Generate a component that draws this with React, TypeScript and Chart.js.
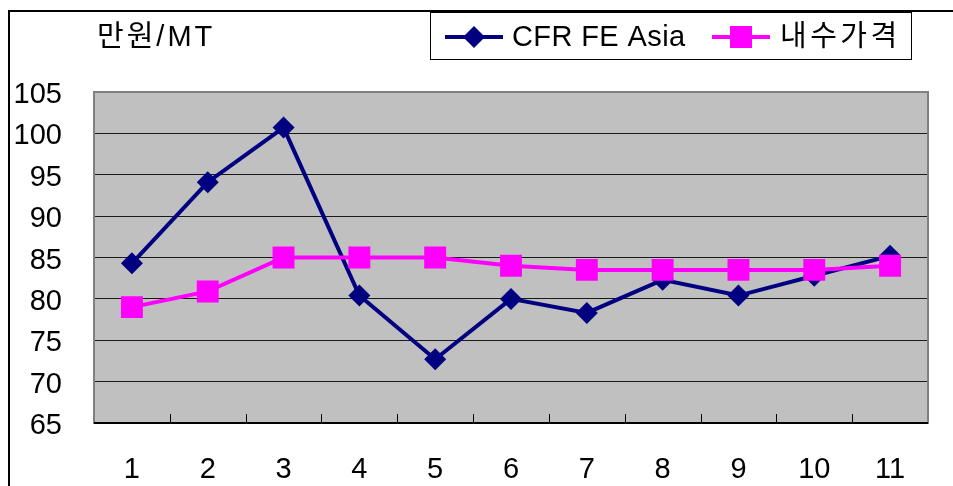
import React, { useEffect, useRef } from 'react';
import { Chart, registerables } from 'chart.js';

Chart.register(...registerables);

const categories = ['1', '2', '3', '4', '5', '6', '7', '8', '9', '10', '11'];
const cfrValues = [84.3, 94.1, 100.7, 80.4, 72.7, 80.0, 78.3, 82.3, 80.4, 82.8, 85.2];
const domesticValues = [79.0, 80.9, 85.0, 85.0, 85.0, 84.0, 83.5, 83.5, 83.5, 83.5, 84.0];
const seriesNames = ['CFR FE Asia', '내수가격'];
const unitLabel = '만원/MT';
const yMin = 65;
const yMax = 105;
const yStep = 5;

const NAVY = '#000080';
const PINK = '#FF00FF';
const FONT = "'Liberation Sans', 'Noto Sans CJK KR', sans-serif";

function drawDiamond(ctx: CanvasRenderingContext2D, x: number, y: number, r: number) {
  ctx.beginPath();
  ctx.moveTo(x, y - r);
  ctx.lineTo(x + r, y);
  ctx.lineTo(x, y + r);
  ctx.lineTo(x - r, y);
  ctx.closePath();
  ctx.fill();
}

const decorPlugin = {
  id: 'decor',
  beforeDraw(chart: any) {
    const { ctx, chartArea: a } = chart;
    ctx.save();
    ctx.fillStyle = '#ffffff';
    ctx.fillRect(0, 0, chart.width, chart.height);
    ctx.fillStyle = '#c0c0c0';
    ctx.fillRect(a.left, a.top, a.right - a.left, a.bottom - a.top);
    ctx.restore();
  },
  beforeDatasetsDraw(chart: any) {
    const { ctx, chartArea: a } = chart;
    ctx.save();
    ctx.strokeStyle = '#808080';
    ctx.lineWidth = 2;
    ctx.strokeRect(a.left, a.top, a.right - a.left, a.bottom - a.top);
    ctx.strokeStyle = '#000000';
    ctx.lineWidth = 2;
    ctx.beginPath();
    ctx.moveTo(a.left, a.bottom);
    ctx.lineTo(a.right, a.bottom);
    ctx.stroke();
    const n = categories.length;
    const step = (a.right - a.left) / n;
    ctx.lineWidth = 1;
    ctx.beginPath();
    for (let i = 1; i < n; i++) {
      const x = Math.round(a.left + i * step) + 0.5;
      ctx.moveTo(x, a.bottom);
      ctx.lineTo(x, a.bottom - 9);
    }
    ctx.stroke();
    ctx.restore();
  },
  afterDraw(chart: any) {
    const { ctx } = chart;
    ctx.save();
    ctx.strokeStyle = '#000000';
    ctx.lineWidth = 2;
    ctx.beginPath();
    ctx.moveTo(9, chart.height);
    ctx.lineTo(9, 11);
    ctx.lineTo(chart.width, 11);
    ctx.stroke();

    ctx.fillStyle = '#000000';
    ctx.font = `29px ${FONT}`;
    ctx.textBaseline = 'middle';
    ctx.textAlign = 'left';
    (ctx as any).letterSpacing = '3px';
    ctx.fillText(unitLabel, 97, 38);
    (ctx as any).letterSpacing = '0px';

    ctx.lineWidth = 1;
    ctx.strokeStyle = '#000000';
    ctx.fillStyle = '#ffffff';
    ctx.fillRect(430.5, 12.5, 481, 47);
    ctx.strokeRect(430.5, 12.5, 481, 47);

    ctx.strokeStyle = NAVY;
    ctx.lineWidth = 4;
    ctx.beginPath();
    ctx.moveTo(445, 37);
    ctx.lineTo(503, 37);
    ctx.stroke();
    ctx.fillStyle = NAVY;
    drawDiamond(ctx, 474, 37, 11);
    ctx.fillStyle = '#000000';
    (ctx as any).letterSpacing = '0.4px';
    ctx.fillText(seriesNames[0], 512, 38);

    ctx.strokeStyle = PINK;
    ctx.lineWidth = 4;
    ctx.beginPath();
    ctx.moveTo(712, 37);
    ctx.lineTo(770, 37);
    ctx.stroke();
    ctx.fillStyle = PINK;
    ctx.fillRect(730, 26, 22, 22);
    ctx.fillStyle = '#000000';
    (ctx as any).letterSpacing = '3.5px';
    ctx.fillText(seriesNames[1], 780, 38);
    (ctx as any).letterSpacing = '0px';
    ctx.restore();
  },
};

export default function App() {
  const canvasRef = useRef<HTMLCanvasElement | null>(null);

  useEffect(() => {
    document.body.style.margin = '0';
    const canvas = canvasRef.current;
    if (!canvas) return;
    const chart = new Chart(canvas, {
      type: 'line',
      data: {
        labels: categories,
        datasets: [
          {
            label: seriesNames[0],
            data: cfrValues,
            borderColor: NAVY,
            backgroundColor: NAVY,
            borderWidth: 4,
            pointStyle: 'rectRot',
            pointRadius: 11,
            pointBorderWidth: 0,
            pointBackgroundColor: NAVY,
            pointBorderColor: NAVY,
            tension: 0,
            order: 1,
          },
          {
            label: seriesNames[1],
            data: domesticValues,
            borderColor: PINK,
            backgroundColor: PINK,
            borderWidth: 4,
            pointStyle: 'rect',
            pointRadius: 15.5,
            pointBorderWidth: 0,
            pointBackgroundColor: PINK,
            pointBorderColor: PINK,
            tension: 0,
            order: 0,
          },
        ],
      },
      options: {
        responsive: false,
        animation: false,
        devicePixelRatio: 1,
        layout: { padding: { top: 92, right: 25, left: 0, bottom: 0 } },
        plugins: {
          legend: { display: false },
          tooltip: { enabled: false },
          title: { display: false },
        },
        scales: {
          x: {
            type: 'category',
            offset: true,
            grid: { display: false, drawTicks: false },
            border: { display: false },
            ticks: {
              color: '#000000',
              font: { family: FONT, size: 29 },
              padding: 30,
              maxRotation: 0,
              autoSkip: false,
            },
            afterFit: (scale: any) => {
              scale.height = 63;
            },
          },
          y: {
            min: yMin,
            max: yMax,
            grid: { color: '#1a1a1a', lineWidth: 1, drawTicks: false },
            border: { display: false },
            ticks: {
              stepSize: yStep,
              color: '#000000',
              font: { family: FONT, size: 29 },
              padding: 32,
              labelOffset: 3,
            },
            afterFit: (scale: any) => {
              scale.width = 94;
            },
          },
        },
      },
      plugins: [decorPlugin],
    });
    return () => chart.destroy();
  }, []);

  return (
    <div style={{ position: 'fixed', left: 0, top: 0, width: 953, height: 486 }}>
      <canvas ref={canvasRef} width={953} height={486} />
    </div>
  );
}
